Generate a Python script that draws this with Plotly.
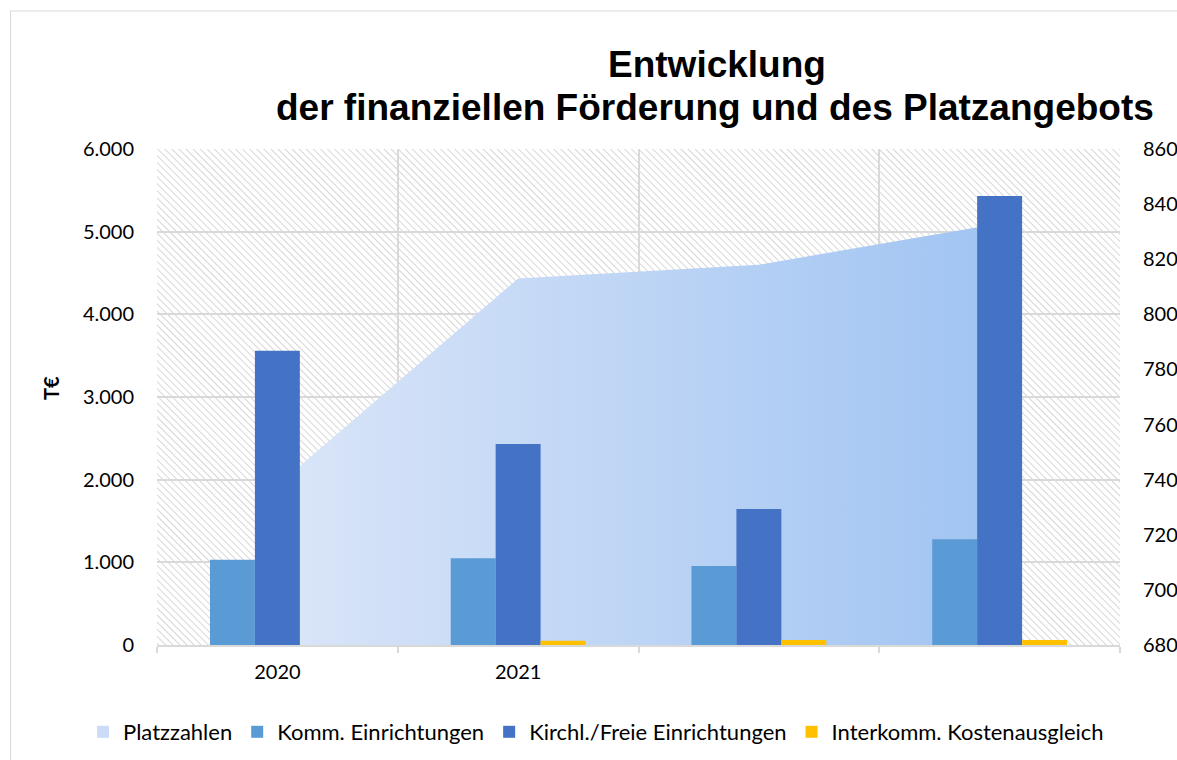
import base64
import plotly.graph_objects as go

# ---- data ----
categories = ['2020', '2021', ' ', '  ']
platzzahlen = [738, 813, 818, 833]
komm = [1030, 1050, 955, 1280]
kirchl = [3560, 2430, 1645, 5430]
interkomm = [0, 50, 60, 60]
left_ticks = [0, 1000, 2000, 3000, 4000, 5000, 6000]
right_ticks = [680, 700, 720, 740, 760, 780, 800, 820, 840, 860]

W, H = 1177, 760
L, R, T, B = 157, 57, 149, 115
PW, PH = W - L - R, H - T - B

def px_x(px):
    return (px - L) / PW

def px_y(py):
    return (H - B - py) / PH

# hatch texture for plot background
svg = (
    f"<svg xmlns='http://www.w3.org/2000/svg' width='{PW}' height='{PH}'>"
    "<defs><pattern id='h' width='5' height='5' patternUnits='userSpaceOnUse' "
    "patternTransform='rotate(-45)'>"
    "<line x1='0' y1='0' x2='0' y2='5' stroke='#cdcdcd' stroke-width='1.6'/>"
    "</pattern></defs><rect width='100%' height='100%' fill='white'/>"
    "<rect width='100%' height='100%' fill='url(#h)'/></svg>"
)
hatch = "data:image/svg+xml;base64," + base64.b64encode(svg.encode()).decode()

fig = go.Figure()
fig.add_trace(go.Scatter(
    x=categories, y=platzzahlen, name='Platzzahlen', mode='none',
    fill='tozeroy',
    fillgradient=dict(type='horizontal',
                      colorscale=[[0, '#dae5f8'], [1, '#a0c4f2']]),
    yaxis='y', hoverinfo='skip', showlegend=False, legendgroup='p'))
# legend entry for the area (square swatch like the original)
fig.add_trace(go.Bar(x=[categories[0]], y=[None], name='Platzzahlen',
                     marker=dict(color='#cadcf7', line=dict(width=0)),
                     yaxis='y', legendgroup='p', hoverinfo='skip'))

for name, vals, color in [
        ('Komm. Einrichtungen', komm, '#5b9bd5'),
        ('Kirchl./Freie Einrichtungen', kirchl, '#4472c4'),
        ('Interkomm. Kostenausgleich', interkomm, '#ffc000')]:
    fig.add_trace(go.Bar(x=categories, y=vals, name=name,
                         marker=dict(color=color, line=dict(width=0)),
                         yaxis='y2'))

tick_font = dict(family='Lato', size=20, color='#000000')

fig.update_layout(
    width=W, height=H,
    margin=dict(l=L, r=R, t=T, b=B, autoexpand=False),
    paper_bgcolor='white', plot_bgcolor='white',
    separators=',.',
    barmode='group', bargap=0.44, bargroupgap=0,
    showlegend=True,
    legend=dict(orientation='h', xref='paper', yref='paper',
                x=px_x(83), xanchor='left',
                y=px_y(732), yanchor='middle',
                font=dict(family='Lato', size=22, color='#000000'),
                traceorder='normal', itemwidth=30),
    xaxis=dict(type='category', categoryorder='array',
               categoryarray=categories, range=[-0.5, 3.5],
               tickson='boundaries', ticks='outside', ticklen=6,
               tickcolor='#d9d9d9', tickwidth=1.5,
               showgrid=True, gridcolor='#d9d9d9', gridwidth=1.5,
               showline=True, linecolor='#d9d9d9', linewidth=1.5,
               tickfont=tick_font, ticklabelstandoff=8,
               automargin=False, fixedrange=True),
    yaxis=dict(side='right', range=[680, 860], tickvals=right_ticks,
               showgrid=False, zeroline=False, showline=False, ticks='',
               tickfont=tick_font, ticklabelstandoff=22,
               automargin=False, fixedrange=True),
    yaxis2=dict(overlaying='y', side='left', anchor='x',
                range=[0, 6000], tickvals=left_ticks, tickformat=',',
                showgrid=True, gridcolor='#d9d9d9', gridwidth=1.5,
                zeroline=False, showline=False, ticks='',
                tickfont=tick_font, ticklabelstandoff=22,
                automargin=False, fixedrange=True),
    images=[dict(source=hatch, xref='x domain', yref='y domain',
                 x=0, y=1, sizex=1, sizey=1, xanchor='left', yanchor='top',
                 sizing='stretch', layer='below')],
    shapes=[dict(type='rect', xref='paper', yref='paper',
                 x0=px_x(10.5), x1=px_x(1200), y0=px_y(11), y1=px_y(790),
                 line=dict(color='#d9d9d9', width=1), fillcolor='rgba(0,0,0,0)',
                 layer='below')],
    annotations=[
        dict(text='<b>Entwicklung</b>', xref='paper', yref='paper',
             x=px_x(717), y=px_y(65), xanchor='center', yanchor='middle',
             showarrow=False,
             font=dict(family='Liberation Sans', size=37, color='#000000')),
        dict(text='<b>der finanziellen Förderung und des Platzangebots</b>',
             xref='paper', yref='paper',
             x=px_x(715), y=px_y(108), xanchor='center', yanchor='middle',
             showarrow=False,
             font=dict(family='Liberation Sans', size=37, color='#000000')),
        dict(text='<b>T€</b>', xref='paper', yref='paper',
             x=px_x(51), y=px_y(388), xanchor='center', yanchor='middle',
             textangle=-90, showarrow=False,
             font=dict(family='Lato', size=20, color='#000000')),
    ],
)

fig.write_html('out.html', config={'displayModeBar': False},
               post_script="document.body.style.margin='0';"
                           "document.body.style.overflow='hidden';")
